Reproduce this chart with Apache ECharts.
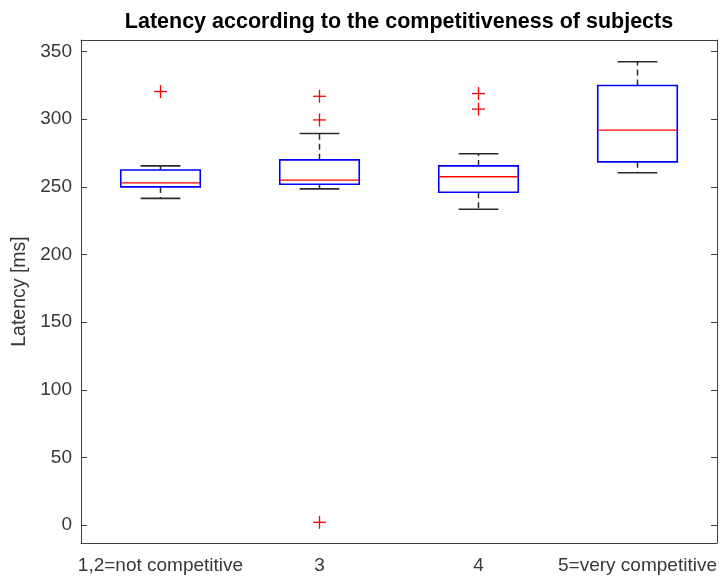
<!DOCTYPE html>
<html>
<head>
<meta charset="utf-8">
<script src="https://cdn.jsdelivr.net/npm/echarts@6/dist/echarts.min.js"></script>
<style>
  html, body { margin: 0; padding: 0; background: #fff; }
  #chart { width: 727px; height: 578px; }
</style>
</head>
<body>
<div id="chart"></div>
<script>
// Groups of subjects by self-rated competitiveness
const categories = ['1,2=not competitive', '3', '4', '5=very competitive'];

// Box-plot statistics per group (latency in ms)
const lowerWhisker = [241.5, 248.5, 233.5, 260.5];
const quartile1    = [250.0, 252.0, 246.0, 268.5];
const medians      = [253.0, 255.0, 257.5, 292.0];
const quartile3    = [262.5, 270.0, 265.5, 325.0];
const upperWhisker = [265.5, 289.5, 274.5, 342.5];

// Outliers: group index and latency
const outlierGroup = [0, 1, 1, 1, 2, 2];
const outlierValue = [320.5, 317.0, 299.5, 2.0, 319.0, 307.5];

// Y axis extent and tick labels
const yMin = -13.3;
const yMax = 358.6;
const yTickStep = 50;

const boxData = categories.map((c, i) => [i, lowerWhisker[i], quartile1[i], medians[i], quartile3[i], upperWhisker[i]]);
const outlierData = outlierGroup.map((g, i) => [g, outlierValue[i]]);

const axisColor = '#404040';
const textColor = '#383838';
const fontFamily = '"Liberation Sans", Arial, Helvetica, sans-serif';

function renderBox(params, api) {
  const x = api.value(0);
  const band = api.size([1, 0])[0];
  const boxHalf = band * 0.25;
  const capHalf = band * 0.125;
  const pLow = api.coord([x, api.value(1)]);
  const pQ1 = api.coord([x, api.value(2)]);
  const pMed = api.coord([x, api.value(3)]);
  const pQ3 = api.coord([x, api.value(4)]);
  const pHigh = api.coord([x, api.value(5)]);
  const cx = pMed[0];
  const whiskerStyle = { stroke: '#2b2b2b', lineWidth: 1.5, lineDash: [6, 4] };
  const capStyle = { stroke: '#2b2b2b', lineWidth: 1.6 };
  return {
    type: 'group',
    children: [
      { type: 'line', shape: { x1: cx, y1: pQ3[1], x2: cx, y2: pHigh[1] }, style: whiskerStyle },
      { type: 'line', shape: { x1: cx, y1: pQ1[1], x2: cx, y2: pLow[1] }, style: whiskerStyle },
      { type: 'line', shape: { x1: cx - capHalf, y1: pHigh[1], x2: cx + capHalf, y2: pHigh[1] }, style: capStyle },
      { type: 'line', shape: { x1: cx - capHalf, y1: pLow[1], x2: cx + capHalf, y2: pLow[1] }, style: capStyle },
      { type: 'rect', shape: { x: cx - boxHalf, y: pQ3[1], width: boxHalf * 2, height: pQ1[1] - pQ3[1] },
        style: { fill: 'none', stroke: '#0000ff', lineWidth: 1.6 } },
      { type: 'line', shape: { x1: cx - boxHalf, y1: pMed[1], x2: cx + boxHalf, y2: pMed[1] },
        style: { stroke: '#ff0000', lineWidth: 1.3 } }
    ]
  };
}

function renderOutlier(params, api) {
  const p = api.coord([api.value(0), api.value(1)]);
  const r = 6.5;
  const st = { stroke: '#ff0000', lineWidth: 1.3 };
  return {
    type: 'group',
    children: [
      { type: 'line', shape: { x1: p[0] - r, y1: p[1], x2: p[0] + r, y2: p[1] }, style: st },
      { type: 'line', shape: { x1: p[0], y1: p[1] - r, x2: p[0], y2: p[1] + r }, style: st }
    ]
  };
}

const yTickFormatter = v => (Math.abs(v / yTickStep - Math.round(v / yTickStep)) < 1e-6 ? String(Math.round(v)) : '');

const chart = echarts.init(document.getElementById('chart'), null, { renderer: 'canvas' });
chart.setOption({
  backgroundColor: '#ffffff',
  animation: false,
  graphic: [{
    type: 'text',
    x: 399, y: 11,
    style: {
      text: 'Latency according to the competitiveness of subjects',
      textAlign: 'center',
      fill: '#000',
      font: 'bold 21.5px ' + fontFamily
    }
  }],
  grid: { left: 81, right: 10, top: 40, bottom: 35, containLabel: false },
  xAxis: [{
    type: 'category',
    data: categories,
    position: 'bottom',
    axisLine: { onZero: false, lineStyle: { color: axisColor, width: 1 } },
    axisTick: { inside: true, alignWithLabel: true, length: 6, lineStyle: { color: axisColor } },
    axisLabel: { color: textColor, fontSize: 19, fontFamily: fontFamily, margin: 13, interval: 0 },
    splitLine: { show: false }
  }, {
    type: 'category',
    data: categories,
    position: 'top',
    axisLine: { onZero: false, lineStyle: { color: axisColor, width: 1 } },
    axisTick: { inside: true, alignWithLabel: true, length: 6, lineStyle: { color: axisColor } },
    axisLabel: { show: false },
    splitLine: { show: false }
  }],
  yAxis: [{
    type: 'value',
    min: yMin, max: yMax,
    minInterval: yTickStep, maxInterval: yTickStep,
    position: 'left',
    name: 'Latency [ms]',
    nameLocation: 'middle',
    nameGap: 48,
    nameTextStyle: { color: textColor, fontSize: 19.5, fontFamily: fontFamily },
    axisLine: { show: true, onZero: false, lineStyle: { color: axisColor, width: 1 } },
    axisTick: { show: true, inside: true, length: 6, lineStyle: { color: axisColor } },
    axisLabel: { color: textColor, fontSize: 19, fontFamily: fontFamily, margin: 9, formatter: yTickFormatter },
    splitLine: { show: false }
  }, {
    type: 'value',
    min: yMin, max: yMax,
    minInterval: yTickStep, maxInterval: yTickStep,
    position: 'right',
    axisLine: { show: true, onZero: false, lineStyle: { color: axisColor, width: 1 } },
    axisTick: { show: true, inside: true, length: 6, lineStyle: { color: axisColor } },
    axisLabel: { show: false },
    splitLine: { show: false }
  }],
  series: [{
    type: 'custom',
    name: 'boxes',
    xAxisIndex: 0, yAxisIndex: 0,
    renderItem: renderBox,
    encode: { x: 0, y: [1, 2, 3, 4, 5] },
    data: boxData,
    z: 3
  }, {
    type: 'custom',
    name: 'outliers',
    xAxisIndex: 0, yAxisIndex: 0,
    renderItem: renderOutlier,
    encode: { x: 0, y: 1 },
    data: outlierData,
    z: 4
  }]
});
</script>
</body>
</html>
